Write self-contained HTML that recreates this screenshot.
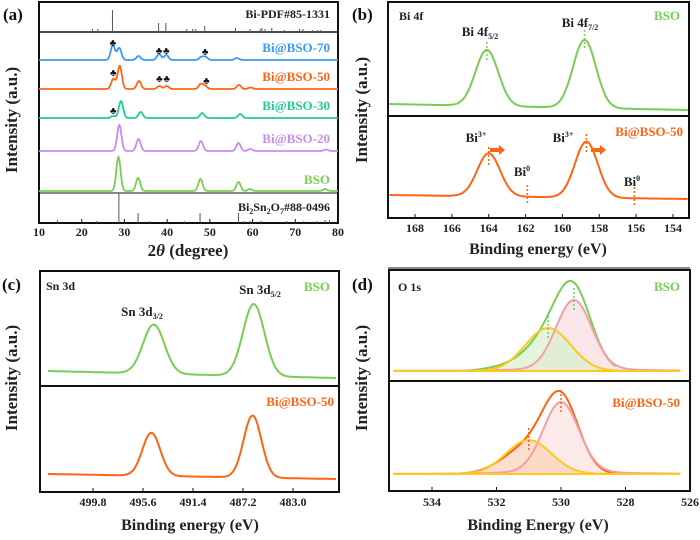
<!DOCTYPE html>
<html><head><meta charset="utf-8"><style>
body{margin:0;background:#fff}
svg{display:block;font-family:"Liberation Serif",serif;font-weight:bold}
</style></head><body>
<svg id="fig" width="700" height="540" viewBox="0 0 700 540"></svg>
<script>
// ---------- DATA ----------
const xrdSeries = ["Bi@BSO-70","Bi@BSO-50","Bi@BSO-30","Bi@BSO-20","BSO"];
const xrdCenters = [
 [27.3,28.8,33.3,38.1,39.8,48.0,49.0,56.3],
 [27.4,28.9,33.4,38.2,39.9,47.9,48.9,56.8,59.5],
 [27.4,29.2,33.8,48.2,57.1],
 [28.8,33.3,47.9,56.7,59.5,77.2],
 [28.6,33.2,47.8,56.7,59.4,77.0]
];
const xrdHeights = [
 [15,12,4,6,5,3,3,2],
 [10,23,8,3,3,5,3,4,1.5],
 [2,17,6,5,4],
 [26,12,10,8,2,1.5],
 [34,13,12,9,2,2]
];
const biRefPos = [22.5,23.8,27.2,38.0,39.7,44.6,46.0,46.7,48.8,56.0,59.4,61.8,62.2,62.9,64.5,67.5,71.0,71.8,74.0,75.3,76.0];
const biRefInt = [3,3,22,9,9,3,3,3,6,4,3,3,4,3,4,2,3,3,2,2,2];
const bsoRefPos = [14.3,23.5,28.7,33.2,36.0,44.0,47.7,50.0,56.7,58.0,59.4,62.0,68.0,72.0,75.0,77.0,78.0];
const bsoRefInt = [3,2,30,10,2,2,10,2,10,2,2,2,2,2,2,3,3];
const xrdTicks = [10,20,30,40,50,60,70,80];
const bCenters = [[164.1,158.8],[164.0,158.7]];
const bHeights = [[56,68],[43,56]];
const bTicks = [168,166,164,162,160,158,156,154];
const cCenters = [[494.7,486.3],[494.9,486.4]];
const cHeights = [[49,72],[43,62]];
const cTicks = [499.8,495.6,491.4,487.2,483.0];
const dPinkC = [529.6,530.0], dPinkH = [71,72];
const dYellowC = [530.4,531.0], dYellowH = [43,34];
const dTicks = [534,532,530,528,526];

// ---------- helpers ----------
const NS="http://www.w3.org/2000/svg";
const svg=document.getElementById('fig');
function el(tag,attrs,parent){const e=document.createElementNS(NS,tag);for(const k in attrs)e.setAttribute(k,attrs[k]);(parent||svg).appendChild(e);return e;}
function txt(x,y,s,size,fill,anchor,parent){const t=el('text',{x:x,y:y,'font-size':size,fill:fill||'#222','text-anchor':anchor||'start'},parent);t.innerHTML=s;return t;}
function lin(d0,d1,r0,r1){return v=>r0+(v-d0)*(r1-r0)/(d1-d0);}
function gauss(x,c,h,s){return h*Math.exp(-0.5*((x-c)/s)**2);}
function curvePath(X,lo,hi,fn,n){let d='';for(let i=0;i<=n;i++){const v=lo+(hi-lo)*i/n;d+=(i?'L':'M')+X(v).toFixed(1)+','+fn(v).toFixed(1);}return d;}

const C={blue:'#3a9af0',orange:'#ff6414',teal:'#1fcc96',purple:'#c98cee',green:'#79cd55',pink:'#f2a0a8',yellow:'#ffc81e'};

// ---------- Panel a ----------
(function(){
 const g=el('g',{});
 const X=lin(10,80,39,338);
 el('rect',{x:39,y:2,width:299,height:221,fill:'none',stroke:'#111','stroke-width':2},g);
 el('line',{x1:39,y1:32,x2:338,y2:32,stroke:'#111','stroke-width':1.5},g);
 el('line',{x1:39,y1:193,x2:338,y2:193,stroke:'#111','stroke-width':1},g);
 biRefPos.forEach((p,i)=>{const l=el('line',{x1:X(p),x2:X(p),y1:32,y2:32-biRefInt[i],stroke:'#555','stroke-width':1},g);});
 bsoRefPos.forEach((p,i)=>{const l=el('line',{x1:X(p),x2:X(p),y1:223,y2:223-bsoRefInt[i],stroke:'#555','stroke-width':1},g);});
 const bases=[60,89,118,151,191], cols=[C.blue,C.orange,C.teal,C.purple,C.green], ly=[52,81,110,143,184];
 xrdSeries.forEach((s,k)=>{
  const p=el('path',{d:curvePath(X,10,80,v=>{let y=bases[k];xrdCenters[k].forEach((c,j)=>y-=gauss(v,c,xrdHeights[k][j],0.5));return y;},700),fill:'none',stroke:cols[k],'stroke-width':1.8},g);
  
  const t=txt(330,ly[k],s,13,cols[k],'end',g);
 });
 [[27.3,46],[38.1,54],[39.8,54],[48.9,55],[27.4,76],[38.2,82],[39.9,82],[49.2,84],[27.4,114]].forEach(m=>{const t=txt(X(m[0]),m[1],'♣',10,'#111','middle',g);});
 let t=txt(330,18,'Bi-PDF#85-1331',12,'#222','end',g);
 t=txt(330,211,'Bi<tspan font-size="8" dy="3">2</tspan><tspan dy="-3">Sn</tspan><tspan font-size="8" dy="3">2</tspan><tspan dy="-3">O</tspan><tspan font-size="8" dy="3">7</tspan><tspan dy="-3">#88-0496</tspan>',12,'#222','end',g);
 xrdTicks.forEach(v=>{el('line',{x1:X(v),x2:X(v),y1:223,y2:219,stroke:'#111'},g);const tt=txt(X(v),236,v,12,'#222','middle',g);});
 t=txt(188,256,'2<tspan font-style="italic">θ</tspan> (degree)',17,'#222','middle',g);
 t=txt(0,0,'Intensity (a.u.)',17,'#222','middle',g);t.setAttribute('transform','translate(17,120) rotate(-90)');
 t=txt(3,20,'(a)',17,'#111','start',g);
})();

// ---------- Panel b ----------
(function(){
 const g=el('g',{});
 const X=lin(168,154,415,673);
 el('rect',{x:388,y:2,width:301,height:216,fill:'none',stroke:'#111','stroke-width':2},g);
 el('line',{x1:388,y1:116,x2:689,y2:116,stroke:'#111','stroke-width':2},g);
 const bl=[[104,110],[195,199]],cols=[C.green,C.orange];
 [0,1].forEach(k=>{const p=el('path',{d:curvePath(X,169.4,153.2,v=>{let y=bl[k][0]+(169.4-v)/16.2*(bl[k][1]-bl[k][0]);bCenters[k].forEach((c,j)=>y-=gauss(v,c,bHeights[k][j],0.62));return y;},400),fill:'none',stroke:cols[k],'stroke-width':2},g);});
 bCenters[0].forEach((c,j)=>el('line',{x1:X(c),x2:X(c),y1:104-bHeights[0][j]-6,y2:104-bHeights[0][j]+14,stroke:C.green,'stroke-width':1.5,'stroke-dasharray':'2,2'},g));
 bCenters[1].forEach((c,j)=>el('line',{x1:X(c),x2:X(c),y1:196-bHeights[1][j]-6,y2:196-bHeights[1][j]+14,stroke:C.orange,'stroke-width':1.5,'stroke-dasharray':'2,2'},g));
 [161.9,156.1].forEach((c,j)=>el('line',{x1:X(c),x2:X(c),y1:[185,187][j],y2:[204,206][j],stroke:C.orange,'stroke-width':1.5,'stroke-dasharray':'2,2'},g));
 [[490,150],[591,150]].forEach(a=>{const p=el('path',{d:`M${a[0]},${a[1]-2}h9v-3l6,5l-6,5v-3h-9z`,fill:C.orange},g);});
 const lab=[[399,20,'Bi 4f',12,'#222','start'],[680,20,'BSO',13,C.green,'end'],[480,36,'Bi 4f<tspan font-size="8" dy="3">5/2</tspan>',13,'#222','middle'],[580,27,'Bi 4f<tspan font-size="8" dy="3">7/2</tspan>',13,'#222','middle'],
  [476,142,'Bi<tspan font-size="8" dy="-5">3+</tspan>',13,'#222','middle'],[563,142,'Bi<tspan font-size="8" dy="-5">3+</tspan>',13,'#222','middle'],[522,176,'Bi<tspan font-size="8" dy="-5">0</tspan>',13,'#222','middle'],[632,186,'Bi<tspan font-size="8" dy="-5">0</tspan>',13,'#222','middle'],[683,136,'Bi@BSO-50',13,C.orange,'end']];
 lab.forEach(l=>{const t=txt(...l,g);});
 bTicks.forEach(v=>{el('line',{x1:X(v),x2:X(v),y1:218,y2:214,stroke:'#111'},g);const t=txt(X(v),232,v,12,'#222','middle',g);});
 let t=txt(538,254,'Binding energy (eV)',16,'#222','middle',g);
 t=txt(0,0,'Intensity (a.u.)',17,'#222','middle',g);t.setAttribute('transform','translate(367,110) rotate(-90)');
 t=txt(352,20,'(b)',17,'#111','start',g);
 el('line',{x1:388,y1:268,x2:690,y2:268,stroke:'#111','stroke-width':1},g);
})();

// ---------- Panel c ----------
(function(){
 const g=el('g',{});
 const X=lin(499.8,483.0,93,293);
 el('rect',{x:40,y:271,width:299,height:221,fill:'none',stroke:'#111','stroke-width':2},g);
 el('line',{x1:40,y1:386,x2:339,y2:386,stroke:'#111','stroke-width':2},g);
 const bl=[[371,378],[474,479]],cols=[C.green,C.orange],sg=[0.9,0.75];
 [0,1].forEach(k=>{const p=el('path',{d:curvePath(X,503.6,479.4,v=>{let y=bl[k][0]+(503.6-v)/24.2*(bl[k][1]-bl[k][0]);cCenters[k].forEach((c,j)=>y-=gauss(v,c,cHeights[k][j],sg[k]));return y;},400),fill:'none',stroke:cols[k],'stroke-width':2},g);});
 const lab=[[46,290,'Sn 3d',12,'#222','start'],[330,291,'BSO',13,C.green,'end'],[142,316,'Sn 3d<tspan font-size="8" dy="3">3/2</tspan>',13,'#222','middle'],[260,294,'Sn 3d<tspan font-size="8" dy="3">5/2</tspan>',13,'#222','middle'],[334,406,'Bi@BSO-50',13,C.orange,'end']];
 lab.forEach(l=>{const t=txt(...l,g);});
 cTicks.forEach(v=>{el('line',{x1:X(v),x2:X(v),y1:492,y2:488,stroke:'#111'},g);const t=txt(X(v),506,v.toFixed(1),12,'#222','middle',g);});
 let t=txt(190,530,'Binding energy (eV)',16,'#222','middle',g);
 t=txt(0,0,'Intensity (a.u.)',17,'#222','middle',g);t.setAttribute('transform','translate(17,378) rotate(-90)');
 t=txt(2,290,'(c)',17,'#111','start',g);
})();

// ---------- Panel d ----------
(function(){
 const g=el('g',{});
 const X=lin(534,526,432,690);
 el('rect',{x:389,y:270,width:301,height:221,fill:'none',stroke:'#111','stroke-width':2},g);
 el('line',{x1:389,y1:381,x2:690,y2:381,stroke:'#111','stroke-width':2},g);
 const bl=[371,474],env=[C.green,C.orange],fills=[['#f8e0e2','#d9f0cf'],['#fbe3e3','#fbd2b8']];
 [0,1].forEach(k=>{
  const pinkG=v=>gauss(v,dPinkC[k],dPinkH[k],0.55);
  const pink=v=>pinkG(v)*0.94+dPinkH[k]*0.06/(1+((v-dPinkC[k])/1.2)**2);
  const yel=v=>gauss(v,dYellowC[k],dYellowH[k],0.7);
  const lo=535.2,hi=526.3;
  const pp=curvePath(X,lo,hi,v=>bl[k]-pink(v),300), yp=curvePath(X,lo,hi,v=>bl[k]-yel(v),300);
  el('path',{d:pp+`L${X(hi)},${bl[k]}L${X(lo)},${bl[k]}Z`,fill:fills[k][0],opacity:0.8},g);
  el('path',{d:yp+`L${X(hi)},${bl[k]}L${X(lo)},${bl[k]}Z`,fill:fills[k][1],opacity:0.7},g);
  let p=el('path',{d:curvePath(X,533.1,528.3,v=>bl[k]-pinkG(v)*1.02-yel(v)*0.72-3*Math.exp(-0.5*((v-531.8)/0.6)**2),300),fill:'none',stroke:env[k],'stroke-width':2},g);
  p=el('path',{d:pp,fill:'none',stroke:C.pink,'stroke-width':2},g);
  p=el('path',{d:yp,fill:'none',stroke:C.yellow,'stroke-width':2},g);
  el('line',{x1:X(lo),x2:X(hi),y1:bl[k],y2:bl[k],stroke:C.yellow,'stroke-width':2},g);
  const dc=env[k];
  el('line',{x1:X(dPinkC[k]),x2:X(dPinkC[k]),y1:bl[k]-dPinkH[k]-12,y2:bl[k]-dPinkH[k]+10,stroke:dc,'stroke-width':1.5,'stroke-dasharray':'2,2'},g);
  el('line',{x1:X(dYellowC[k]),x2:X(dYellowC[k]),y1:bl[k]-dYellowH[k]-12,y2:bl[k]-dYellowH[k]+10,stroke:dc,'stroke-width':1.5,'stroke-dasharray':'2,2'},g);
 });
 const lab=[[398,291,'O 1s',12,'#222','start'],[680,291,'BSO',13,C.green,'end'],[680,407,'Bi@BSO-50',13,C.orange,'end']];
 lab.forEach(l=>{const t=txt(...l,g);});
 dTicks.forEach(v=>{el('line',{x1:X(v),x2:X(v),y1:491,y2:487,stroke:'#111'},g);const t=txt(X(v),506,v,12,'#222','middle',g);});
 let t=txt(538,530,'Binding Energy (eV)',16,'#222','middle',g);
 t=txt(0,0,'Intensity (a.u.)',17,'#222','middle',g);t.setAttribute('transform','translate(367,378) rotate(-90)');
 t=txt(352,290,'(d)',17,'#111','start',g);
})();
</script>
</body></html>
